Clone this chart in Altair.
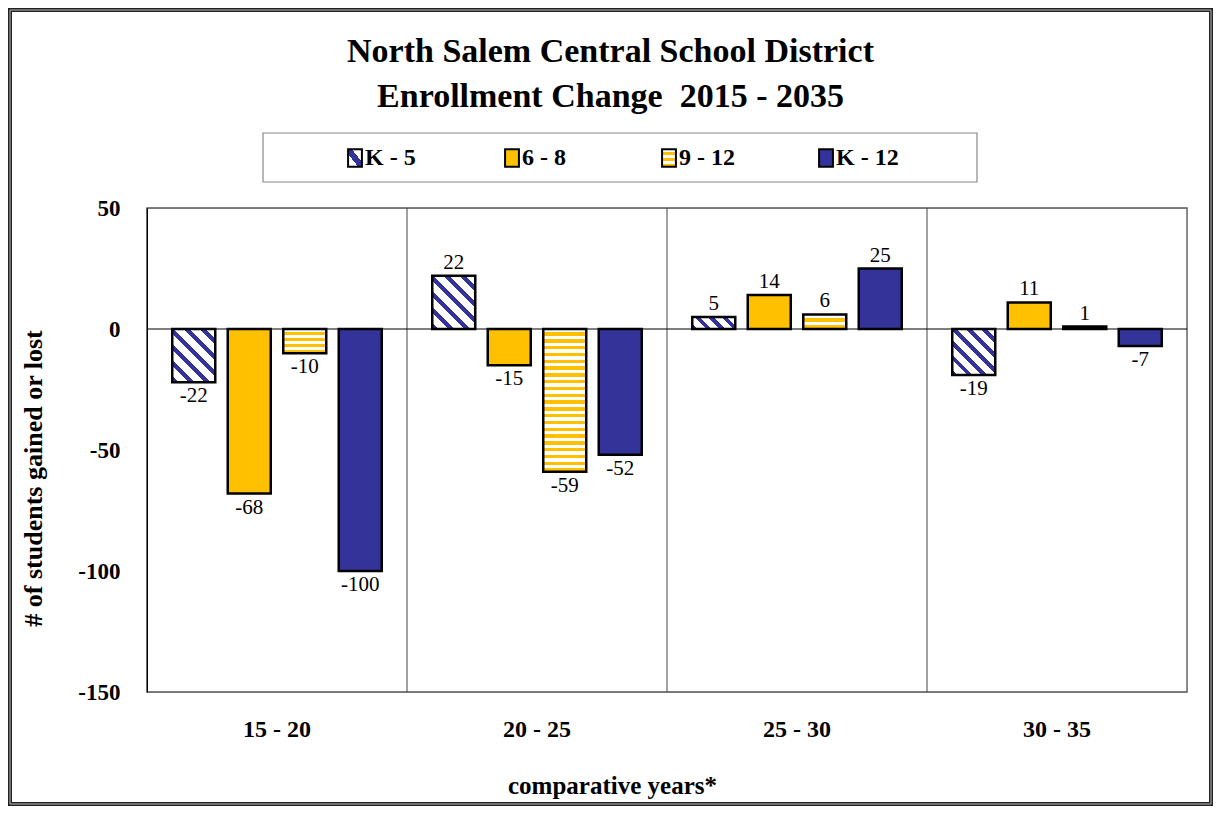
import altair as alt
import pandas as pd
import math

# ---- data ----
periods = ["15 - 20", "20 - 25", "25 - 30", "30 - 35"]
series = ["K - 5", "6 - 8", "9 - 12", "K - 12"]
k5 = [-22, 22, 5, -19]
g6_8 = [-68, -15, 14, 11]
g9_12 = [-10, -59, 6, 1]
k12 = [-100, -52, 25, -7]
y_ticks = [-150, -100, -50, 0, 50]

NAVY = "#333399"
GOLD = "#FFC000"
FONT = "Liberation Serif"

rows = []
for s, vals in zip(series, [k5, g6_8, g9_12, k12]):
    for p, v in zip(periods, vals):
        rows.append({"period": p, "series": s, "value": v})
df = pd.DataFrame(rows)
per_df = pd.DataFrame({"period": periods})
leg_df = pd.DataFrame({"series": series})
one = pd.DataFrame({"a": [0]})

W, H = 1040, 484
PX_PER_UNIT = H / 200.0
BAR_W = 43.0

X_SCALE = alt.Scale(domain=periods, paddingInner=0, paddingOuter=0)
X_AXIS = alt.Axis(
    title="comparative years*", labelAngle=0, ticks=False, tickSize=0, domain=False,
    grid=False, labelFont=FONT, labelFontSize=24, labelFontWeight="bold",
    labelColor="black", labelPadding=25, titleFont=FONT, titleFontSize=25,
    titleFontWeight="bold", titleColor="black", titleX=465, titleY=93,
    titleBaseline="middle", titleAlign="center", zindex=2,
)
X_ENC = alt.X("period:N", sort=periods, scale=X_SCALE, axis=X_AXIS)
XO_ENC = alt.XOffset("series:N", sort=series,
                     scale=alt.Scale(domain=series, paddingInner=0.225, paddingOuter=0.455))
Y_ENC = alt.Y(
    "value:Q",
    scale=alt.Scale(domain=[-150, 50], nice=False, zero=False),
    axis=alt.Axis(
        values=y_ticks, labelExpr="'' + datum.value", title="# of students gained or lost",
        grid=False, ticks=False, tickSize=0, domain=True, domainColor="black", domainWidth=1,
        labelFont=FONT, labelFontSize=23, labelFontWeight="bold", labelColor="black",
        labelPadding=27, titleFont=FONT, titleFontSize=26, titleFontWeight="bold",
        titleColor="black", titleX=-114, titleY=270, titleAngle=270, titleBaseline="middle",
        titleAlign="center", zindex=2,
    ),
)


def band_stops(n, bg, fg, frac):
    stops = []
    for i in range(n):
        a = i / n
        m = (i + 1 - frac) / n
        b = (i + 1) / n
        stops += [{"offset": a, "color": bg}, {"offset": m, "color": bg},
                  {"offset": m, "color": fg}, {"offset": b, "color": fg}]
    return stops


def diag_gradient(w, h, period=11.0):
    k = (w + h) / (w * w + h * h)
    n = max(1, round((w + h) / math.sqrt(2) / period))
    return {"gradient": "linear", "x1": 1, "y1": 0, "x2": 1 - k * w, "y2": k * h,
            "stops": band_stops(n, "white", NAVY, 0.38)}


def horiz_gradient(h, period=6.8):
    n = max(1, round(h / period))
    return {"gradient": "linear", "x1": 0, "y1": 0, "x2": 0, "y2": 1,
            "stops": band_stops(n, "white", GOLD, 0.5)}


# ---- outer frame ----
frame_outer = alt.Chart(one).mark_rect(fill="transparent", stroke="#222222", strokeWidth=4).encode(
    x=alt.value(-137), x2=alt.value(1064), y=alt.value(-198), y2=alt.value(596))
frame_inner = alt.Chart(one).mark_rect(fill="transparent", stroke="#bbbbbb", strokeWidth=1).encode(
    x=alt.value(-137), x2=alt.value(1064), y=alt.value(-198), y2=alt.value(596))

# ---- plot layers ----
plot_border = alt.Chart(one).mark_rect(fill="transparent", stroke="#555555", strokeWidth=1.3).encode(
    x=alt.value(0), x2=alt.value(W), y=alt.value(0), y2=alt.value(H))

grid = alt.Chart(per_df).mark_rule(color="#444444", strokeWidth=1).encode(
    x=alt.X("period:N", bandPosition=0, sort=periods, scale=X_SCALE, axis=X_AXIS))

zero = alt.Chart(one).mark_rule(color="black", strokeWidth=1.2).encode(y=alt.datum(0))

solid = alt.Chart(df).transform_filter(
    "datum.series === '6 - 8' || datum.series === 'K - 12'"
).mark_bar(stroke="black", strokeWidth=2.5).encode(
    x=X_ENC, xOffset=XO_ENC, y=Y_ENC, y2=alt.datum(0),
    fill=alt.Fill("series:N", scale=alt.Scale(domain=["6 - 8", "K - 12"], range=[GOLD, NAVY]),
                  legend=None),
)

patterned = []
for p, v in zip(periods, k5):
    h = abs(v) * PX_PER_UNIT
    patterned.append(
        alt.Chart(df).transform_filter(
            f"datum.series === 'K - 5' && datum.period === '{p}'"
        ).mark_bar(stroke="black", strokeWidth=2.5, fill=diag_gradient(BAR_W, h)).encode(
            x=X_ENC, xOffset=XO_ENC, y=Y_ENC, y2=alt.datum(0))
    )
for p, v in zip(periods, g9_12):
    h = abs(v) * PX_PER_UNIT
    patterned.append(
        alt.Chart(df).transform_filter(
            f"datum.series === '9 - 12' && datum.period === '{p}'"
        ).mark_bar(stroke="black", strokeWidth=2.5, fill=horiz_gradient(h)).encode(
            x=X_ENC, xOffset=XO_ENC, y=Y_ENC, y2=alt.datum(0))
    )

lab_pos = alt.Chart(df).transform_filter("datum.value >= 0").transform_calculate(
    label="'' + datum.value").mark_text(
    baseline="bottom", dy=-3, font=FONT, fontSize=21, color="black").encode(
    x=X_ENC, xOffset=XO_ENC, y=Y_ENC, text="label:N")
lab_neg = alt.Chart(df).transform_filter("datum.value < 0").transform_calculate(
    label="'' + datum.value").mark_text(
    baseline="top", dy=3, font=FONT, fontSize=21, color="black").encode(
    x=X_ENC, xOffset=XO_ENC, y=Y_ENC, text="label:N")

main = alt.layer(plot_border, grid, zero, solid, *patterned, lab_pos, lab_neg)

# ---- legend (drawn as marks) ----
LX = alt.X("series:N", sort=series,
           scale=alt.Scale(type="point", domain=series, range=[208, 679], padding=0), axis=None)
SYM = "M-0.8,-1L0.8,-1L0.8,1L-0.8,1Z"
LEG_Y = -50

leg_box = alt.Chart(one).mark_rect(fill="white", stroke="#888888", strokeWidth=1.2).encode(
    x=alt.value(116), x2=alt.value(830), y=alt.value(-75), y2=alt.value(-26))
leg_solid = alt.Chart(leg_df).transform_filter(
    "datum.series === '6 - 8' || datum.series === 'K - 12'"
).mark_point(shape=SYM, size=300, filled=True, opacity=1, stroke="black", strokeWidth=2).encode(
    x=LX, y=alt.value(LEG_Y),
    fill=alt.Fill("series:N", scale=alt.Scale(domain=["6 - 8", "K - 12"], range=[GOLD, NAVY]),
                  legend=None),
)
leg_k5 = alt.Chart(leg_df).transform_filter("datum.series === 'K - 5'").mark_point(
    shape=SYM, size=300, filled=True, opacity=1, stroke="black", strokeWidth=2,
    fill={"gradient": "linear", "x1": 1, "y1": 0, "x2": 0, "y2": 1,
          "stops": [{"offset": 0, "color": "white"}, {"offset": 0.36, "color": "white"},
                    {"offset": 0.36, "color": NAVY}, {"offset": 0.64, "color": NAVY},
                    {"offset": 0.64, "color": "white"}, {"offset": 1, "color": "white"}]},
).encode(x=LX, y=alt.value(LEG_Y))
leg_912 = alt.Chart(leg_df).transform_filter("datum.series === '9 - 12'").mark_point(
    shape=SYM, size=300, filled=True, opacity=1, stroke="black", strokeWidth=2,
    fill={"gradient": "linear", "x1": 0, "y1": 0, "x2": 0, "y2": 1,
          "stops": band_stops(3, "white", GOLD, 0.5) + [{"offset": 1, "color": "white"}]},
).encode(x=LX, y=alt.value(LEG_Y))
leg_text = alt.Chart(leg_df).mark_text(
    align="left", baseline="middle", dx=10, font=FONT, fontSize=24, fontWeight="bold",
    color="black").encode(x=LX, y=alt.value(LEG_Y), text="series:N")

legend = alt.layer(leg_box, leg_solid, leg_k5, leg_912, leg_text)

chart = alt.layer(frame_outer, frame_inner, main, legend).resolve_scale(
    x="independent"
).properties(
    width=W, height=H, padding=0,
    title=alt.TitleParams(
        text=["North Salem Central School District", "Enrollment Change\u00a0 2015 - 2035"],
        font=FONT, fontSize=34, fontWeight="bold", color="black", anchor="middle",
        frame="bounds", offset=-106, lineHeight=45,
    ),
).configure_view(stroke="#555555", strokeWidth=1.3).configure(background="white")

chart.save("out.html", embed_options={"renderer": "svg", "actions": False})
